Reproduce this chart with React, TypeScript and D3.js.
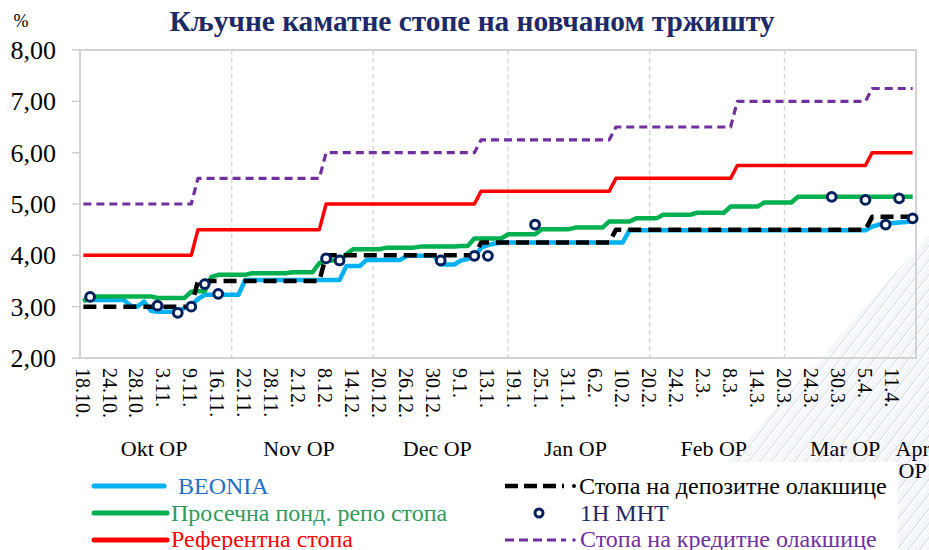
import React from "react";
import * as d3 from "d3";

// Business days (categories) of the chart
const categories: string[] = [
  "18.10.", "19.10.", "20.10.", "21.10.", "24.10.", "25.10.", "26.10.", "27.10.", "28.10.", "31.10.",
  "1.11.", "2.11.", "3.11.", "4.11.", "7.11.", "8.11.", "9.11.", "10.11.", "14.11.", "15.11.", "16.11.", "17.11.",
  "18.11.", "21.11.", "22.11.", "23.11.", "24.11.", "25.11.", "28.11.", "29.11.", "30.11.",
  "1.12.", "2.12.", "5.12.", "6.12.", "7.12.", "8.12.", "9.12.", "12.12.", "13.12.", "14.12.", "15.12.", "16.12.",
  "19.12.", "20.12.", "21.12.", "22.12.", "23.12.", "26.12.", "27.12.", "28.12.", "29.12.", "30.12.",
  "4.1.", "5.1.", "6.1.", "9.1.", "10.1.", "11.1.", "12.1.", "13.1.", "16.1.", "17.1.",
  "18.1.", "19.1.", "20.1.", "23.1.", "24.1.", "25.1.", "26.1.", "27.1.", "30.1.", "31.1.",
  "1.2.", "2.2.", "3.2.", "6.2.", "7.2.", "8.2.", "9.2.", "10.2.", "13.2.", "14.2.", "17.2.",
  "20.2.", "21.2.", "22.2.", "23.2.", "24.2.", "27.2.", "28.2.",
  "1.3.", "2.3.", "3.3.", "6.3.", "7.3.", "8.3.", "9.3.", "10.3.", "13.3.", "14.3.", "15.3.", "16.3.", "17.3.",
  "20.3.", "21.3.", "22.3.", "23.3.", "24.3.", "27.3.", "28.3.", "29.3.", "30.3.", "31.3.",
  "3.4.", "4.4.", "5.4.", "6.4.", "7.4.", "10.4.", "11.4.", "12.4.", "13.4.", "18.4.",
];

const beonia: number[] = [
  3.13, 3.13, 3.13, 3.13, 3.13, 3.13, 3.13, 3.02, 3.0, 3.1,
  2.92, 2.9, 2.9, 2.9, 2.92, 2.97, 3.03, 3.15, 3.23, 3.23, 3.23, 3.23,
  3.23, 3.23, 3.52, 3.52, 3.52, 3.52, 3.52, 3.52, 3.52,
  3.52, 3.52, 3.52, 3.52, 3.52, 3.52, 3.52, 3.52, 3.79, 3.79, 3.79, 3.91,
  3.91, 3.91, 3.91, 3.91, 3.91, 3.99, 3.99, 3.99, 3.99, 3.99,
  3.82, 3.82, 3.82, 3.9, 3.93, 3.97, 4.15, 4.2, 4.23, 4.25,
  4.25, 4.25, 4.25, 4.25, 4.25, 4.25, 4.25, 4.25, 4.25, 4.25,
  4.25, 4.25, 4.25, 4.25, 4.25, 4.25, 4.25, 4.25, 4.49, 4.49, 4.49,
  4.49, 4.49, 4.49, 4.49, 4.49, 4.49, 4.49,
  4.49, 4.49, 4.49, 4.49, 4.49, 4.49, 4.49, 4.49, 4.49, 4.49, 4.49, 4.49, 4.49,
  4.49, 4.49, 4.49, 4.49, 4.49, 4.49, 4.49, 4.49, 4.49, 4.49,
  4.49, 4.49, 4.49, 4.56, 4.6, 4.61, 4.63, 4.64, 4.65, 4.67,
];

const repo: number[] = [
  3.1, 3.2, 3.2, 3.2, 3.2, 3.2, 3.2, 3.2, 3.2, 3.2,
  3.2, 3.17, 3.17, 3.17, 3.17, 3.17, 3.29, 3.3, 3.3, 3.58, 3.62, 3.62,
  3.62, 3.62, 3.62, 3.65, 3.65, 3.65, 3.65, 3.65, 3.65,
  3.67, 3.67, 3.67, 3.67, 3.85, 3.9, 3.9, 3.9, 4.02, 4.12, 4.12, 4.12,
  4.12, 4.12, 4.15, 4.15, 4.15, 4.15, 4.15, 4.17, 4.17, 4.17,
  4.17, 4.17, 4.17, 4.18, 4.18, 4.33, 4.33, 4.33, 4.33, 4.33,
  4.41, 4.41, 4.41, 4.41, 4.41, 4.51, 4.51, 4.51, 4.51, 4.51,
  4.54, 4.54, 4.54, 4.54, 4.54, 4.66, 4.66, 4.66, 4.66, 4.72, 4.72,
  4.72, 4.72, 4.79, 4.79, 4.79, 4.79, 4.79,
  4.83, 4.83, 4.83, 4.83, 4.83, 4.95, 4.95, 4.95, 4.95, 4.95, 5.03, 5.03, 5.03,
  5.03, 5.03, 5.14, 5.14, 5.14, 5.14, 5.14, 5.14, 5.14, 5.14,
  5.14, 5.14, 5.14, 5.14, 5.14, 5.14, 5.14, 5.14, 5.14, 5.14,
];

const reference: number[] = [
  4.0, 4.0, 4.0, 4.0, 4.0, 4.0, 4.0, 4.0, 4.0, 4.0,
  4.0, 4.0, 4.0, 4.0, 4.0, 4.0, 4.0, 4.5, 4.5, 4.5, 4.5, 4.5,
  4.5, 4.5, 4.5, 4.5, 4.5, 4.5, 4.5, 4.5, 4.5,
  4.5, 4.5, 4.5, 4.5, 4.5, 5.0, 5.0, 5.0, 5.0, 5.0, 5.0, 5.0,
  5.0, 5.0, 5.0, 5.0, 5.0, 5.0, 5.0, 5.0, 5.0, 5.0,
  5.0, 5.0, 5.0, 5.0, 5.0, 5.0, 5.25, 5.25, 5.25, 5.25,
  5.25, 5.25, 5.25, 5.25, 5.25, 5.25, 5.25, 5.25, 5.25, 5.25,
  5.25, 5.25, 5.25, 5.25, 5.25, 5.25, 5.5, 5.5, 5.5, 5.5, 5.5,
  5.5, 5.5, 5.5, 5.5, 5.5, 5.5, 5.5,
  5.5, 5.5, 5.5, 5.5, 5.5, 5.5, 5.75, 5.75, 5.75, 5.75, 5.75, 5.75, 5.75,
  5.75, 5.75, 5.75, 5.75, 5.75, 5.75, 5.75, 5.75, 5.75, 5.75,
  5.75, 5.75, 5.75, 6.0, 6.0, 6.0, 6.0, 6.0, 6.0, 6.0,
];

const deposit: number[] = [
  3.0, 3.0, 3.0, 3.0, 3.0, 3.0, 3.0, 3.0, 3.0, 3.0,
  3.0, 3.0, 3.0, 3.0, 3.0, 3.0, 3.0, 3.5, 3.5, 3.5, 3.5, 3.5,
  3.5, 3.5, 3.5, 3.5, 3.5, 3.5, 3.5, 3.5, 3.5,
  3.5, 3.5, 3.5, 3.5, 3.5, 4.0, 4.0, 4.0, 4.0, 4.0, 4.0, 4.0,
  4.0, 4.0, 4.0, 4.0, 4.0, 4.0, 4.0, 4.0, 4.0, 4.0,
  4.0, 4.0, 4.0, 4.0, 4.0, 4.0, 4.25, 4.25, 4.25, 4.25,
  4.25, 4.25, 4.25, 4.25, 4.25, 4.25, 4.25, 4.25, 4.25, 4.25,
  4.25, 4.25, 4.25, 4.25, 4.25, 4.25, 4.5, 4.5, 4.5, 4.5, 4.5,
  4.5, 4.5, 4.5, 4.5, 4.5, 4.5, 4.5,
  4.5, 4.5, 4.5, 4.5, 4.5, 4.5, 4.5, 4.5, 4.5, 4.5, 4.5, 4.5, 4.5,
  4.5, 4.5, 4.5, 4.5, 4.5, 4.5, 4.5, 4.5, 4.5, 4.5,
  4.5, 4.5, 4.5, 4.75, 4.75, 4.75, 4.75, 4.75, 4.75, 4.75,
];

const lending: number[] = [
  5.0, 5.0, 5.0, 5.0, 5.0, 5.0, 5.0, 5.0, 5.0, 5.0,
  5.0, 5.0, 5.0, 5.0, 5.0, 5.0, 5.0, 5.5, 5.5, 5.5, 5.5, 5.5,
  5.5, 5.5, 5.5, 5.5, 5.5, 5.5, 5.5, 5.5, 5.5,
  5.5, 5.5, 5.5, 5.5, 5.5, 6.0, 6.0, 6.0, 6.0, 6.0, 6.0, 6.0,
  6.0, 6.0, 6.0, 6.0, 6.0, 6.0, 6.0, 6.0, 6.0, 6.0,
  6.0, 6.0, 6.0, 6.0, 6.0, 6.0, 6.25, 6.25, 6.25, 6.25,
  6.25, 6.25, 6.25, 6.25, 6.25, 6.25, 6.25, 6.25, 6.25, 6.25,
  6.25, 6.25, 6.25, 6.25, 6.25, 6.25, 6.5, 6.5, 6.5, 6.5, 6.5,
  6.5, 6.5, 6.5, 6.5, 6.5, 6.5, 6.5,
  6.5, 6.5, 6.5, 6.5, 6.5, 6.5, 7.0, 7.0, 7.0, 7.0, 7.0, 7.0, 7.0,
  7.0, 7.0, 7.0, 7.0, 7.0, 7.0, 7.0, 7.0, 7.0, 7.0,
  7.0, 7.0, 7.0, 7.25, 7.25, 7.25, 7.25, 7.25, 7.25, 7.25,
];

const mhtDates: string[] = [
  "19.10.", "2.11.", "7.11.", "9.11.", "14.11.", "16.11.", "8.12.", "12.12.", "4.1.",
  "11.1.", "13.1.", "24.1.", "29.3.", "5.4.", "10.4.", "12.4.", "18.4.",
];
const mhtValues: number[] = [
  3.19, 3.02, 2.88, 3.0, 3.44, 3.25, 3.94, 3.9, 3.9,
  3.99, 3.99, 4.6, 5.14, 5.08, 4.6, 5.11, 4.72,
];

const periodNames: string[] = ["Okt OP", "Nov OP", "Dec OP", "Jan OP", "Feb OP", "Mar OP", "Apr OP"];
const periodStarts: string[] = ["18.10.", "18.11.", "19.12.", "18.1.", "20.2.", "20.3.", "18.4."];
const yTicks: number[] = [2, 3, 4, 5, 6, 7, 8];

const FONT = "'Liberation Serif', 'Times New Roman', serif";

export default function App() {
  const W = 929;
  const H = 550;
  const left = 80;
  const right = 916;
  const top = 50;
  const bottom = 358;

  const x = d3.scaleBand<string>().domain(categories).range([left, right]).padding(0);
  const bw = x.bandwidth();
  const cx = (c: string) => (x(c) as number) + bw / 2;
  const y = d3.scaleLinear().domain([2, 8]).range([bottom, top]);
  const fmt = (v: number) => d3.format(".2f")(v).replace(".", ",");

  const line = d3
    .line<number>()
    .x((_, i) => cx(categories[i]))
    .y((d) => y(d));

  const startIdx = periodStarts.map((s) => categories.indexOf(s));
  const groups = periodNames.map((name, k) => {
    const s = startIdx[k];
    const e = k + 1 < startIdx.length ? startIdx[k + 1] - 1 : categories.length - 1;
    const x0 = x(categories[s]) as number;
    const x1 = (x(categories[e]) as number) + bw;
    return { name, s, center: (x0 + x1) / 2 };
  });

  return (
    <svg
      width={W}
      height={H}
      viewBox={`0 0 ${W} ${H}`}
      style={{ position: "absolute", left: 0, top: 0, display: "block", background: "#fff" }}
    >
      <defs>
        <pattern id="hatch" width="9" height="9" patternUnits="userSpaceOnUse" patternTransform="rotate(38)">
          <rect x="0" y="0" width="2" height="9" fill="#e2e7ed" />
          <rect x="4" y="0" width="1" height="9" fill="#ebeff3" />
          <rect x="6.5" y="0" width="1.2" height="9" fill="#e6eaf0" />
        </pattern>
        <linearGradient id="fade" x1="0" y1="0" x2="1" y2="0.6">
          <stop offset="0" stopColor="#fff" stopOpacity="0" />
          <stop offset="0.45" stopColor="#fff" stopOpacity="0.85" />
          <stop offset="1" stopColor="#fff" stopOpacity="1" />
        </linearGradient>
        <mask id="fadeMask">
          <rect x="640" y="230" width="289" height="320" fill="url(#fade)" />
        </mask>
      </defs>

      {/* decorative background streaks */}
      <polygon points="929,235 929,550 650,550" fill="url(#hatch)" mask="url(#fadeMask)" />
      {/* legend box */}
      <rect x={82} y={462} width={816} height={88} fill="#fff" />

      {/* title */}
      <text
        x={472}
        y={31}
        textAnchor="middle"
        fontFamily={FONT}
        fontWeight="bold"
        fontSize={30}
        fill="#1c2a66"
        textLength={605}
        lengthAdjust="spacingAndGlyphs"
      >
        Кључне каматне стопе на новчаном тржишту
      </text>
      <text x={21} y={27} textAnchor="middle" fontFamily={FONT} fontSize={18} fill="#000">
        %
      </text>

      {/* vertical dashed gridlines at period starts */}
      {groups.slice(1, 6).map((g) => (
        <line
          key={g.name}
          x1={cx(categories[g.s])}
          x2={cx(categories[g.s])}
          y1={top}
          y2={bottom}
          stroke="#d9d9d9"
          strokeWidth={1.5}
          strokeDasharray="5,3"
        />
      ))}

      {/* plot frame */}
      <rect x={left} y={top} width={right - left} height={bottom - top} fill="none" stroke="#cfcfcf" strokeWidth={1.8} />

      {/* y axis ticks and labels */}
      {yTicks.map((t) => (
        <g key={t}>
          <line x1={72} x2={left} y1={y(t)} y2={y(t)} stroke="#cfcfcf" strokeWidth={1.5} />
          <text
            x={56}
            y={y(t)}
            dy="0.34em"
            textAnchor="end"
            fontFamily={FONT}
            fontSize={26}
            fill="#000"
          >
            {fmt(t)}
          </text>
        </g>
      ))}

      {/* x axis date labels */}
      {categories.map((c, i) =>
        i % 4 === 0 ? (
          <text
            key={c}
            transform={`translate(${cx(c) - 1},368) rotate(90)`}
            dy="0.34em"
            textAnchor="start"
            fontFamily={FONT}
            fontSize={20}
            fill="#000"
          >
            {c}
          </text>
        ) : null
      )}

      {/* period labels */}
      {groups.map((g) =>
        g.name === "Apr OP" ? (
          <text key={g.name} x={g.center} y={456} textAnchor="middle" fontFamily={FONT} fontSize={22} fill="#000">
            <tspan x={g.center}>Apr</tspan>
            <tspan x={g.center} dy={22}>OP</tspan>
          </text>
        ) : (
          <text key={g.name} x={g.center} y={456} textAnchor="middle" fontFamily={FONT} fontSize={22} fill="#000">
            {g.name}
          </text>
        )
      )}

      {/* series */}
      <path d={line(beonia) || ""} fill="none" stroke="#00b0f0" strokeWidth={4.5} strokeLinejoin="round" />
      <path d={line(repo) || ""} fill="none" stroke="#00b050" strokeWidth={4.5} strokeLinejoin="round" />
      <path d={line(reference) || ""} fill="none" stroke="#ff0000" strokeWidth={3.5} strokeLinejoin="round" />
      <path
        d={line(deposit) || ""}
        fill="none"
        stroke="#000"
        strokeWidth={4.5}
        strokeDasharray="13,7"
        strokeLinejoin="round"
      />
      <path
        d={line(lending) || ""}
        fill="none"
        stroke="#7030a0"
        strokeWidth={3.2}
        strokeDasharray="8,5"
        strokeLinejoin="round"
      />
      {mhtDates.map((d, i) => (
        <circle key={d} cx={cx(d)} cy={y(mhtValues[i])} r={4.4} fill="#fff" stroke="#002060" strokeWidth={3} />
      ))}

      {/* legend */}
      <g fontFamily={FONT} fontSize={24}>
        <line x1={94} x2={164} y1={486} y2={486} stroke="#00b0f0" strokeWidth={5} strokeLinecap="round" />
        <text x={178} y={486} dy="0.34em" fill="#1f6fc6">BEONIA</text>

        <line x1={94} x2={167} y1={513} y2={513} stroke="#00b050" strokeWidth={5} strokeLinecap="round" />
        <text x={171} y={513} dy="0.34em" fill="#339a5a">Просечна понд. репо стопа</text>

        <line x1={94} x2={167} y1={540} y2={540} stroke="#ff0000" strokeWidth={5} strokeLinecap="round" />
        <text x={171} y={539} dy="0.34em" fill="#ff0000">Референтна стопа</text>

        <line x1={505} x2={564} y1={486} y2={486} stroke="#000" strokeWidth={4.5} strokeDasharray="13,6" />
        <circle cx={574} cy={486} r={2} fill="#000" />
        <text x={579} y={486} dy="0.34em" fill="#000">Стопа на депозитне олакшице</text>

        <circle cx={539} cy={513} r={4} fill="#fff" stroke="#002060" strokeWidth={3} />
        <text x={580} y={513} dy="0.34em" fill="#1c2a66">1Н МНТ</text>

        <line x1={505} x2={566} y1={540} y2={540} stroke="#7030a0" strokeWidth={3.2} strokeDasharray="9,5" />
        <circle cx={574} cy={540} r={1.8} fill="#7030a0" />
        <text x={580} y={539} dy="0.34em" fill="#7030a0">Стопа на кредитне олакшице</text>
      </g>
    </svg>
  );
}
